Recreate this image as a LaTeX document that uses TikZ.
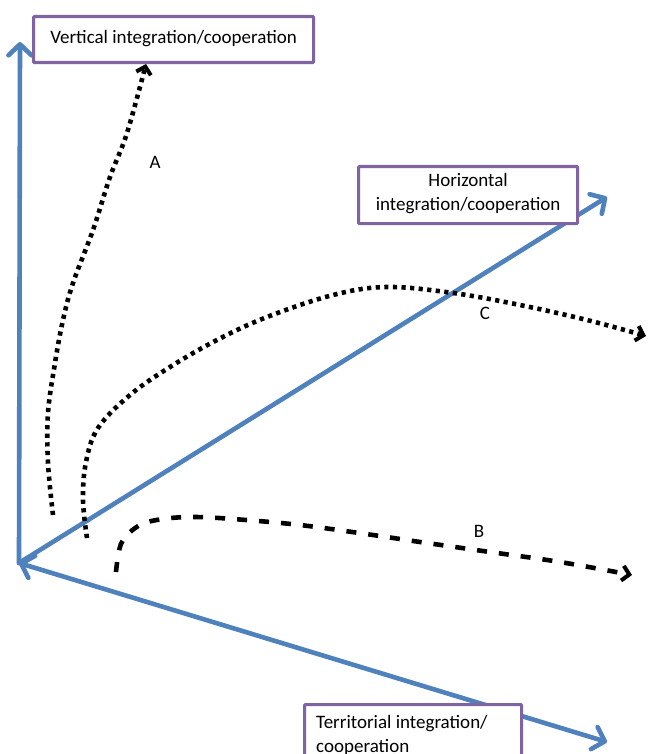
\documentclass[tikz,border=0pt]{standalone}
\usepackage{fontspec}
\setmainfont{Carlito}
\usetikzlibrary{arrows.meta}
\definecolor{axisblue}{HTML}{4F81BD}
\definecolor{boxpurple}{HTML}{8064A2}
\tikzset{
  axisline/.style={draw=axisblue, line width=4.6pt, line cap=round,
    arrows={-Straight Barb[length=11pt,width=23pt,line width=4.6pt,round]}},
  axisboth/.style={draw=axisblue, line width=4.6pt, line cap=round,
    arrows={Straight Barb[length=11pt,width=23pt,line width=4.6pt,round]-Straight Barb[length=11pt,width=23pt,line width=4.6pt,round]}},
  labelbox/.style={draw=boxpurple, line width=3.2pt, fill=white, rounded corners=1pt},
  dotpath/.style={draw=black, line width=4.6pt, dash pattern=on 4.2pt off 4.4pt,
    arrows={-Straight Barb[length=7pt,width=15pt,line width=4pt]}},
  dashpath/.style={draw=black, line width=4.6pt, dash pattern=on 10pt off 12pt,
    arrows={-Straight Barb[length=7pt,width=15pt,line width=4pt]}},
  lbl/.style={font=\fontsize{19}{22}\selectfont, inner sep=0pt},
  boxtext/.style={font=\fontsize{19}{24}\selectfont, inner sep=0pt}
}
\begin{document}
\begin{tikzpicture}[x=1pt,y=-1pt]
\useasboundingbox (0,0) rectangle (649,754);
\clip (0,0) rectangle (649,754);
\fill[white] (0,0) rectangle (649,754);
% axis end points
\coordinate (O) at (19,563);
\coordinate (vtop) at (20,42);
\coordinate (htop) at (607,197);
\coordinate (ttip) at (607,742);
% axes
\draw[axisline] (O) -- (vtop);
\draw[axisline] (O) -- (htop);
\draw[axisboth] (O) -- (ttip);
% boxes
\node[labelbox, anchor=north west, minimum width=280pt, minimum height=46pt, inner sep=0pt] (vbox) at (32,15) {};
\node[boxtext] (vtext) at ([yshift=1pt]vbox.center) {Vertical integration/cooperation};
\node[labelbox, anchor=north west, minimum width=219pt, minimum height=57pt, inner sep=0pt] (hbox) at (357,165) {};
\node[boxtext, align=center] (htext) at ([yshift=2pt]hbox.center) {Horizontal\\integration/cooperation};
\node[labelbox, anchor=north west, minimum width=217pt, minimum height=80pt, inner sep=0pt] (tbox) at (303,703) {};
\node[boxtext, align=left, anchor=north west] (ttext) at (316,715) {Territorial integration/\\cooperation};
% curves
\draw[dotpath] plot[smooth, tension=0.6] coordinates {(53,515) (48,463) (48,413) (55,363) (63,320) (73,283) (93,230) (110,177) (127,133) (146,64)};
\draw[dotpath] plot[smooth, tension=0.6] coordinates {(87,538) (83,500) (86,462) (98,428) (130,395) (170,367) (217,340) (267,317) (333,295) (387,287) (453,293) (520,305) (587,320) (646,336)};
\draw[dashpath] plot[smooth, tension=0.6] coordinates {(116,572) (118,557) (123,540) (140,525) (163,519) (193,517) (233,519) (300,525) (373,535) (420,542) (490,552) (560,562) (632,575)};
% labels
\node[lbl] (la) at (155,162) {A};
\node[lbl] (lb) at (479,531) {B};
\node[lbl] (lc) at (485,313) {C};
\end{tikzpicture}
\end{document}
